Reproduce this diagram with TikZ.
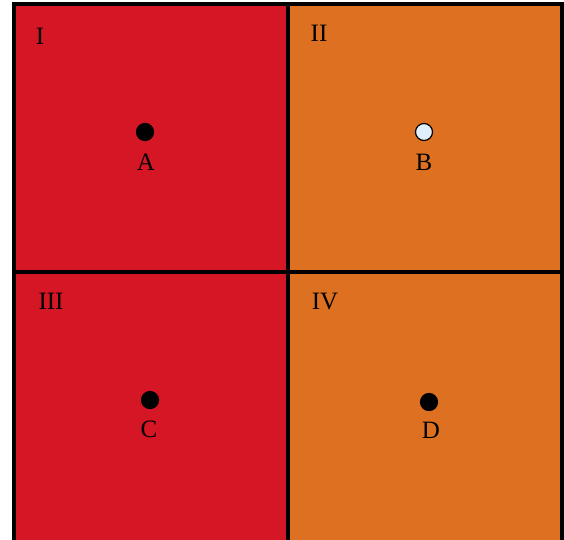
\documentclass[tikz,border=0pt]{standalone}
\usepackage{fontspec}
\setmainfont{Liberation Serif}
\begin{document}
\begin{tikzpicture}[x=1pt,y=-1pt,
  cell/.style={draw=black,line width=4pt},
  dot/.style={circle,draw=black,line width=1.2pt,minimum size=17pt,inner sep=0pt},
  lbl/.style={font=\fontsize{25}{28}\selectfont,inner sep=0pt}]
\definecolor{cred}{RGB}{212,22,37}
\definecolor{corange}{RGB}{222,112,33}
\definecolor{cblue}{RGB}{224,240,250}
\useasboundingbox (0,0) rectangle (564,539);
\clip (0,0) rectangle (564,539);
\fill[white] (0,0) rectangle (564,539);
\fill[cred] (14,4) rectangle (288,272);
\fill[corange] (288,4) rectangle (562,272);
\fill[cred] (14,272) rectangle (288,544);
\fill[corange] (288,272) rectangle (562,544);
\draw[cell] (14,4) rectangle (288,272);
\draw[cell] (288,4) rectangle (562,272);
\draw[cell] (14,272) rectangle (288,544);
\draw[cell] (288,272) rectangle (562,544);
\node[lbl] (n1) at (40,36) {I};
\node[lbl] (n2) at (319,33) {II};
\node[lbl] (n3) at (51,301) {III};
\node[lbl] (n4) at (325,301) {IV};
\node[dot,fill=black] (pa) at (145,132) {};
\node[dot,fill=cblue] (pb) at (424,132) {};
\node[dot,fill=black] (pc) at (150,400) {};
\node[dot,fill=black] (pd) at (429,402) {};
\node[lbl] (la) at (146,162) {A};
\node[lbl] (lb) at (424,162) {B};
\node[lbl] (lc) at (149,429) {C};
\node[lbl] (ld) at (431,430) {D};
\end{tikzpicture}
\end{document}
